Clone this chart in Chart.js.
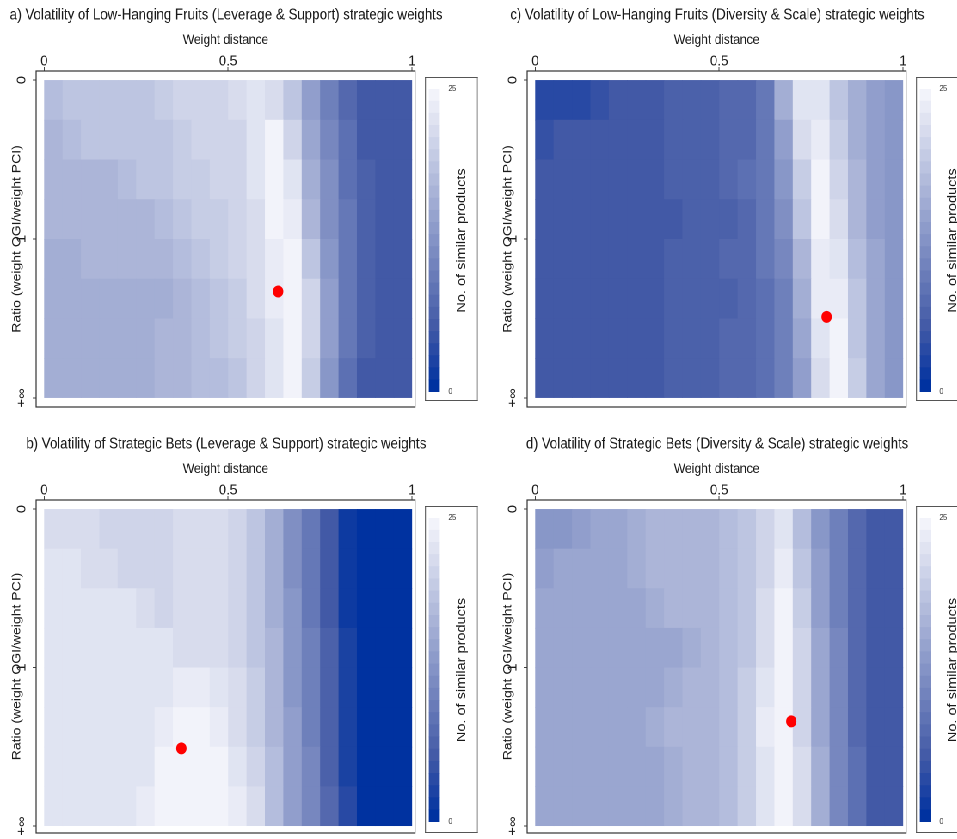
<!DOCTYPE html>
<html>
<head>
<meta charset="utf-8">
<script src="https://cdn.jsdelivr.net/npm/chart.js@4.4.0/dist/chart.umd.min.js"></script>
<style>
  html, body { margin: 0; padding: 0; background: #fff; overflow: hidden; }
  #page { position: relative; width: 957px; height: 839px; overflow: hidden; }
  /* the whole figure is laid out wide and squeezed horizontally */
  #fig { position: absolute; left: 0; top: 0; width: 1113px; height: 839px; transform: scaleX(0.86); transform-origin: 0 0; }
  #fig canvas { position: absolute; }
  .key { position: absolute; border: 1px solid #555; box-sizing: border-box; background: #fff; }
  .key canvas { left: 0; top: 0; }
</style>
</head>
<body>
<div id="page">
<div id="fig">
  <canvas id="panelA" width="526" height="429" style="left:0;top:0"></canvas>
  <canvas id="panelC" width="526" height="429" style="left:571px;top:0"></canvas>
  <canvas id="panelB" width="526" height="410" style="left:0;top:429px"></canvas>
  <canvas id="panelD" width="526" height="410" style="left:571px;top:429px"></canvas>
  <div class="key" style="left:494px;top:77px;width:62px;height:324px"><canvas id="keyA" width="60" height="322"></canvas></div>
  <div class="key" style="left:1065px;top:77px;width:62px;height:324px"><canvas id="keyC" width="60" height="322"></canvas></div>
  <div class="key" style="left:494px;top:506px;width:62px;height:327px"><canvas id="keyB" width="60" height="325"></canvas></div>
  <div class="key" style="left:1065px;top:506px;width:62px;height:327px"><canvas id="keyD" width="60" height="325"></canvas></div>
</div>
</div>
<script>
// axis ticks
const xTicks = [0, 0.5, 1];
const yTicks = [0, 1, 2];
const yTickLabels = ['0', '1', '+\u221e'];
const keyMin = 0, keyMax = 25, keyBlocks = 25;

const titleA = 'a) Volatility of Low-Hanging Fruits (Leverage & Support) strategic weights';
const titleB = 'b) Volatility of Strategic Bets (Leverage & Support) strategic weights';
const titleC = 'c) Volatility of Low-Hanging Fruits (Diversity & Scale) strategic weights';
const titleD = 'd) Volatility of Strategic Bets (Diversity & Scale) strategic weights';

// no. of similar products; rows go from ratio 0 (top) to +inf (bottom),
// 20 columns across weight distance 0..1
const gridA = [
  [18,19,19,19,19,19,20,21,21,21,22,23,22,19,14,10,7,5,5,5],
  [17,18,19,19,19,19,19,20,21,21,21,23,25,21,15,11,8,5,5,5],
  [17,17,17,17,18,19,19,20,20,21,21,23,25,23,16,12,8,6,5,5],
  [17,17,17,17,17,17,18,19,20,20,21,22,25,24,17,12,9,6,5,5],
  [16,16,17,17,17,17,17,18,19,20,21,22,24,25,19,13,9,6,5,5],
  [16,16,16,16,16,16,16,17,18,19,20,22,24,25,21,14,9,6,5,5],
  [16,16,16,16,16,16,17,17,18,19,20,21,23,25,21,14,9,6,5,5],
  [16,16,16,16,16,16,17,17,18,18,19,21,23,25,20,13,8,5,5,5]
];
const gridB = [
  [22,22,22,21,21,21,21,22,22,22,21,19,16,12,9,5,1,0,0,0],
  [23,23,22,22,21,21,21,22,22,22,21,19,16,12,9,5,1,0,0,0],
  [23,23,23,23,23,22,21,22,22,22,21,19,16,13,9,5,1,0,0,0],
  [23,23,23,23,23,23,23,22,22,22,21,19,17,13,10,6,2,0,0,0],
  [23,23,23,23,23,23,23,24,24,23,22,20,17,13,10,6,2,0,0,0],
  [23,23,23,23,23,23,24,25,25,24,22,20,17,14,10,6,2,0,0,0],
  [23,23,23,23,23,23,25,25,25,25,23,21,18,14,11,6,2,0,0,0],
  [23,23,23,23,23,24,25,25,25,25,24,22,18,14,11,7,3,0,0,0]
];
const gridC = [
  [3,3,3,4,5,5,5,6,6,6,7,7,9,16,23,23,19,16,14,13],
  [4,5,5,5,5,5,5,6,6,6,7,7,9,14,22,24,20,16,14,13],
  [5,5,5,5,5,5,5,6,6,6,7,8,9,13,20,25,21,17,14,13],
  [5,5,5,5,5,5,5,5,6,6,6,7,9,12,19,25,22,17,14,13],
  [5,5,5,5,5,5,5,6,6,6,7,7,9,11,17,24,23,18,15,13],
  [5,5,5,5,5,5,5,6,6,6,6,7,8,10,16,24,24,19,15,13],
  [5,5,5,5,5,5,5,6,6,6,7,7,8,10,15,23,25,19,15,13],
  [5,5,5,5,5,5,5,6,6,6,7,7,8,10,14,22,25,20,15,13]
];
const gridD = [
  [13,13,14,15,15,16,17,17,17,17,18,19,21,23,18,13,10,7,5,5],
  [14,15,15,15,15,16,17,17,17,17,18,19,21,24,19,14,10,7,5,5],
  [15,15,15,15,15,15,16,17,17,17,18,19,22,25,20,14,10,7,5,5],
  [15,15,15,15,15,15,15,15,16,17,18,19,22,25,21,15,11,7,5,5],
  [15,15,15,15,15,15,15,16,17,17,18,20,23,25,21,15,11,7,5,5],
  [15,15,15,15,15,15,16,17,17,17,18,20,24,25,21,15,11,7,5,5],
  [15,15,15,15,15,15,15,16,17,17,18,20,23,25,22,16,11,8,5,5],
  [15,15,15,15,15,15,15,16,17,17,18,20,23,25,22,16,11,8,5,5]
];

// chosen weights (weight distance, ratio)
const dotA = [0.636, 1.33];
const dotB = [0.373, 1.51];
const dotC = [0.792, 1.49];
const dotD = [0.696, 1.34];

// colour ramp: dark blue -> greyish blue -> near white
const rampStops = [0, 5, 25];
const rampRgb = [[0, 50, 160], [66, 89, 166], [242, 243, 250]];
function ramp(v) {
  let k = 0;
  while (k < rampStops.length - 2 && v > rampStops[k + 1]) k++;
  const t = Math.max(0, Math.min(1, (v - rampStops[k]) / (rampStops[k + 1] - rampStops[k])));
  const a = rampRgb[k], b = rampRgb[k + 1];
  const c = a.map((x, i) => Math.round(x + (b[i] - x) * t));
  return 'rgb(' + c.join(',') + ')';
}

const FONT = "'Liberation Sans', Arial, sans-serif";
Chart.defaults.font.family = FONT;
Chart.defaults.color = '#1a1a1a';

function tickGrid() {
  return { display: true, drawOnChartArea: false, drawTicks: true, tickLength: 4, color: '#444', lineWidth: 1 };
}

// no extra room for end labels, the plot box is placed by hand
function noEdgePadding(s) {
  s.paddingTop = 0; s.paddingBottom = 0; s.paddingLeft = 0; s.paddingRight = 0;
}

function drawPanel(id, title, grid, dot, yMax, padBottom) {
  const heat = {
    id: 'heat',
    beforeDatasetsDraw(chart) {
      const ctx = chart.ctx, xs = chart.scales.x, ys = chart.scales.y;
      const rows = grid.length, cols = grid[0].length;
      ctx.save();
      for (let i = 0; i < rows; i++) {
        const t = ys.getPixelForValue(i * 2 / rows), b = ys.getPixelForValue((i + 1) * 2 / rows);
        for (let j = 0; j < cols; j++) {
          const l = xs.getPixelForValue(j / cols), r = xs.getPixelForValue((j + 1) / cols);
          ctx.fillStyle = ramp(grid[i][j]);
          ctx.fillRect(l, t, r - l + (j < cols - 1 ? 0.6 : 0), b - t + (i < rows - 1 ? 0.6 : 0));
        }
      }
      ctx.restore();
    },
    afterDraw(chart) {
      const a = chart.chartArea, ctx = chart.ctx;
      ctx.save();
      ctx.strokeStyle = '#333';
      ctx.lineWidth = 1.2;
      ctx.strokeRect(a.left, a.top, a.right - a.left, a.bottom - a.top);
      ctx.restore();
    }
  };

  return new Chart(document.getElementById(id), {
    type: 'scatter',
    data: {
      datasets: [{
        data: [{ x: dot[0], y: dot[1] }],
        yAxisID: 'y',
        pointRadius: 6,
        pointHoverRadius: 6,
        pointBackgroundColor: '#ff0000',
        pointBorderWidth: 0
      }]
    },
    options: {
      responsive: false,
      animation: false,
      devicePixelRatio: 2,
      events: [],
      layout: { padding: { top: 2, right: 0, bottom: padBottom, left: 0 } },
      plugins: {
        legend: { display: false },
        tooltip: { enabled: false },
        title: {
          display: true, text: title, color: '#1a1a1a',
          font: { size: 15.5, weight: 'normal' },
          padding: { top: 4, bottom: 2 }
        }
      },
      scales: {
        x: {
          type: 'linear', position: 'top', min: -0.0217, max: 1.008,
          afterBuildTicks: s => { s.ticks = xTicks.map(v => ({ value: v })); },
          afterFit: s => { s.height = 44.4; noEdgePadding(s); },
          grid: tickGrid(),
          border: { display: false },
          ticks: { font: { size: 15, lineHeight: 1 }, padding: -2, maxRotation: 0, autoSkip: false, callback: v => String(v) },
          title: { display: true, text: 'Weight distance', font: { size: 14 }, padding: { top: 5, bottom: 0 } }
        },
        y: {
          type: 'linear', position: 'left', reverse: true, min: -0.057, max: yMax,
          afterBuildTicks: s => { s.ticks = yTicks.map(v => ({ value: v })); },
          afterFit: s => { s.width = 42; noEdgePadding(s); },
          grid: tickGrid(),
          border: { display: false },
          ticks: { font: { size: 15, lineHeight: 1 }, padding: 3, minRotation: 90, maxRotation: 90, crossAlign: 'center', autoSkip: false, callback: (v, i) => yTickLabels[i] },
          title: { display: true, text: 'Ratio (weight OGI/weight PCI)', font: { size: 14 }, padding: { top: 11, bottom: 0 } }
        },
        // empty strip on the right, keeps the title centred over the plot
        y2: {
          type: 'linear', position: 'right', display: true,
          afterFit: s => { s.width = 43.4; noEdgePadding(s); },
          grid: { display: false }, border: { display: false },
          ticks: { display: false }, title: { display: false }
        }
      }
    },
    plugins: [heat]
  });
}

function drawKey(id, padBottom) {
  const datasets = [];
  for (let k = 0; k < keyBlocks; k++) {
    datasets.push({
      data: [(keyMax - keyMin) / keyBlocks],
      backgroundColor: ramp(keyMin + k * (keyMax - keyMin) / (keyBlocks - 1)),
      borderWidth: 0,
      barPercentage: 1,
      categoryPercentage: 1
    });
  }
  const label = {
    id: 'keyLabel',
    afterDraw(chart) {
      const a = chart.chartArea, ctx = chart.ctx;
      ctx.save();
      ctx.translate(42, (a.top + a.bottom) / 2);
      ctx.rotate(-Math.PI / 2);
      ctx.font = '14.5px ' + FONT;
      ctx.fillStyle = '#1a1a1a';
      ctx.textAlign = 'center';
      ctx.textBaseline = 'middle';
      ctx.fillText('No. of similar products', 0, 0);
      ctx.restore();
    }
  };
  return new Chart(document.getElementById(id), {
    type: 'bar',
    data: { labels: [''], datasets },
    options: {
      responsive: false,
      animation: false,
      devicePixelRatio: 2,
      events: [],
      layout: { padding: { left: 3.6, top: 11, bottom: padBottom, right: 0 } },
      plugins: { legend: { display: false }, tooltip: { enabled: false } },
      scales: {
        x: { stacked: true, display: false },
        y: {
          stacked: true, position: 'right', min: keyMin, max: keyMax,
          afterBuildTicks: s => { s.ticks = [{ value: keyMin }, { value: keyMax }]; },
          afterFit: s => { s.width = 43.6; noEdgePadding(s); },
          grid: { display: false }, border: { display: false },
          ticks: { font: { size: 8 }, padding: 2, color: '#333', callback: v => String(v) }
        }
      }
    },
    plugins: [label]
  });
}

drawPanel('panelA', titleA, gridA, dotA, 2.057, 22);
drawPanel('panelC', titleC, gridC, dotC, 2.057, 22);
drawPanel('panelB', titleB, gridB, dotB, 2.044, 5);
drawPanel('panelD', titleD, gridD, dotD, 2.044, 5);
drawKey('keyA', 8);
drawKey('keyC', 8);
drawKey('keyB', 10);
drawKey('keyD', 10);
</script>
</body>
</html>
